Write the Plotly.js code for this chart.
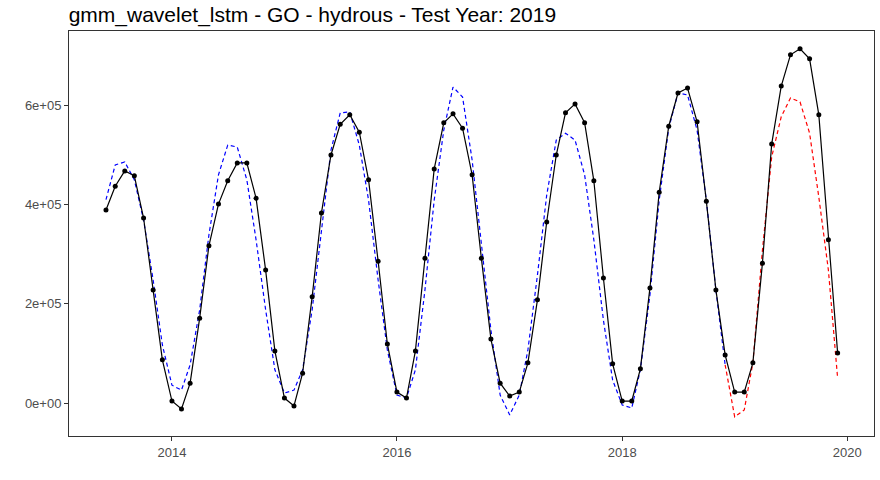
<!DOCTYPE html>
<html><head><script src="https://cdn.plot.ly/plotly-3.0.1.min.js"></script></head>
<body style="margin:0"><div id="c" style="width:880px;height:480px"></div>
<script>
const startYear = 2013, startMonth = 6;
const actual = [3.89,4.37,4.68,4.58,3.73,2.28,0.87,
0.04,-0.12,0.40,1.71,3.17,4.01,4.48,4.84,4.84,4.13,2.68,1.05,
0.10,-0.06,0.60,2.14,3.83,5.00,5.62,5.81,5.46,4.50,2.86,1.19,
0.22,0.10,1.05,2.92,4.72,5.65,5.83,5.54,4.60,2.92,1.29,0.40,
0.14,0.22,0.81,2.08,3.65,5.00,5.85,6.03,5.65,4.48,2.52,0.79,
0.04,0.04,0.69,2.32,4.25,5.58,6.25,6.35,5.67,4.07,2.28,0.97,
0.22,0.22,0.81,2.82,5.22,6.39,7.02,7.14,6.94,5.81,3.29,1.01];
const trainPred = [4.1,4.8,4.86,4.5,3.69,2.48,1.17,
0.36,0.26,0.77,1.88,3.39,4.6,5.2,5.16,4.5,3.29,1.88,0.67,
0.2,0.26,0.67,1.88,3.49,5.1,5.85,5.87,5.2,4.09,2.48,1.07,
0.16,0.1,0.67,2.28,4.09,5.5,6.37,6.17,4.9,3.19,1.47,0.16,
-0.24,0.16,1.07,2.58,4.19,5.3,5.44,5.3,4.6,3.29,1.67,0.46,
-0.04,-0.1,0.67,2.18,4.09,5.54,6.25,6.21,5.5,4.09,2.28,0.77];
const testPred = [0.77,-0.28,-0.14,0.81,3.08,4.96,5.77,6.15,6.07,5.44,4.15,2.68,0.5];
const yTicks = [0,2e5,4e5,6e5];
const yTickText = ["0e+00","2e+05","4e+05","6e+05"];
const xTicks = ["2014-01-01","2016-01-01","2018-01-01","2020-01-01"];
const xTickText = ["2014","2016","2018","2020"];
function d(i){const m=startMonth-1+i;const y=startYear+Math.floor(m/12);const mm=(m%12)+1;return y+"-"+String(mm).padStart(2,"0")+"-01";}
const xa = actual.map((_,i)=>d(i));
const xt = trainPred.map((_,i)=>d(i));
const xs = testPred.map((_,i)=>d(i+trainPred.length-1));
const sc = v=>v.map(x=>x*1e5);
Plotly.newPlot("c",[
 {x:xt,y:sc(trainPred),mode:"lines",line:{color:"#0000ff",dash:"4px,3px",width:1.2}},
 {x:xs,y:sc(testPred),mode:"lines",line:{color:"#ff0000",dash:"4px,3px",width:1.2}},
 {x:xa,y:sc(actual),mode:"lines+markers",line:{color:"#000",width:1.2},marker:{color:"#000",size:5}}
],{
 width:880,height:480,showlegend:false,
 margin:{l:69,r:6,t:31,b:44},
 paper_bgcolor:"#fff",plot_bgcolor:"#fff",
 title:{text:"gmm_wavelet_lstm - GO - hydrous - Test Year: 2019",x:0.078,xanchor:"left",y:0.985,yanchor:"top",font:{family:"Liberation Sans, Arial",size:21,color:"#000"}},
 xaxis:{type:"date",range:["2013-02-01","2020-03-28"],tickvals:xTicks,ticktext:xTickText,showgrid:false,zeroline:false,
  showline:true,mirror:true,linecolor:"#333",linewidth:1,ticks:"outside",ticklen:4,tickcolor:"#333",
  tickfont:{family:"Liberation Sans, Arial",size:13,color:"#4d4d4d"}},
 yaxis:{range:[-66500,750000],tickvals:yTicks,ticktext:yTickText,showgrid:false,zeroline:false,
  showline:true,mirror:true,linecolor:"#333",linewidth:1,ticks:"outside",ticklen:4,tickcolor:"#333",
  tickfont:{family:"Liberation Sans, Arial",size:13,color:"#4d4d4d"}}
},{displayModeBar:false});
</script></body></html>
